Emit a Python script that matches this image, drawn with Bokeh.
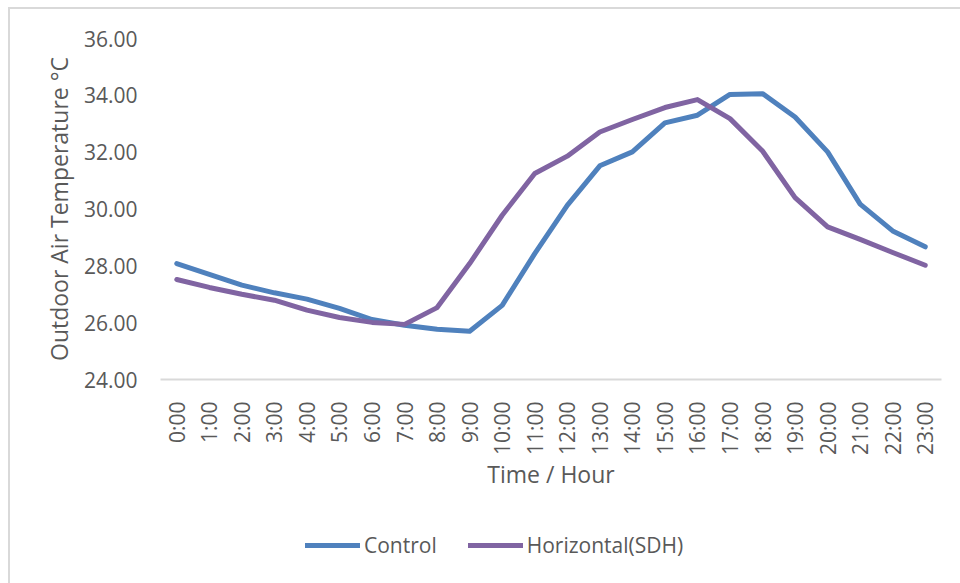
import math
from bokeh.plotting import figure
from bokeh.layouts import column
from bokeh.models import (FactorRange, Range1d, FixedTicker, NumeralTickFormatter,
                          Legend, LegendItem)
from bokeh.embed import file_html
from bokeh.resources import INLINE

hours = [f"{h}:00" for h in range(24)]
control = [28.08, 27.70, 27.32, 27.05, 26.83, 26.50, 26.11, 25.91, 25.77, 25.70,
           26.61, 28.43, 30.13, 31.52, 32.01, 33.03, 33.30, 34.03, 34.06, 33.24,
           32.01, 30.17, 29.23, 28.67]
horizontal = [27.52, 27.24, 27.00, 26.79, 26.44, 26.18, 26.01, 25.94, 26.53, 28.08,
              29.78, 31.25, 31.86, 32.71, 33.15, 33.57, 33.85, 33.18, 32.04, 30.40,
              29.37, 28.93, 28.47, 28.02]
y_ticks = [24, 26, 28, 30, 32, 34, 36]
series_names = ["Control", "Horizontal(SDH)"]
series_colors = ["#4F81BD", "#8064A2"]

FONT = "Open Sans"
TXT = "#595959"
BORDER = "#D9D9D9"

H_MAIN = 510
H_LEG = 583 - H_MAIN

p = figure(width=960, height=H_MAIN, x_range=FactorRange(*hours), y_range=Range1d(24, 36),
           output_backend="svg", toolbar_location=None,
           min_border_left=160, min_border_right=19, min_border_top=38,
           min_border_bottom=H_MAIN - 379)
p.border_fill_color = None
p.styles = {
    "background-image": f"linear-gradient({BORDER}, {BORDER}), linear-gradient({BORDER}, {BORDER})",
    "background-size": "2px 100%, 100% 2px",
    "background-position": "8px 7px, 8px 7px",
    "background-repeat": "no-repeat",
}
p.outline_line_color = None
p.xgrid.grid_line_color = None
p.ygrid.grid_line_color = None
p.x_range.range_padding = 0
p.x_range.factor_padding = 0

r1 = p.line(hours, control, line_color=series_colors[0], line_width=5,
            line_cap="round", line_join="round")
r2 = p.line(hours, horizontal, line_color=series_colors[1], line_width=5,
            line_cap="round", line_join="round")

# y axis
ya = p.yaxis[0]
ya.ticker = FixedTicker(ticks=y_ticks)
ya.formatter = NumeralTickFormatter(format="0.00")
ya.axis_line_color = None
ya.major_tick_line_color = None
ya.minor_tick_line_color = None
ya.major_label_text_font = FONT
ya.major_label_text_font_size = "21px"
ya.major_label_text_color = TXT
ya.major_label_standoff = 17
ya.axis_label = "Outdoor Air Temperature °C"
ya.axis_label_text_font = FONT
ya.axis_label_text_font_size = "23px"
ya.axis_label_text_font_style = "normal"
ya.axis_label_text_color = TXT
ya.axis_label_standoff = 6

# x axis
xa = p.xaxis[0]
xa.axis_line_color = BORDER
xa.axis_line_width = 2
xa.major_tick_line_color = None
xa.minor_tick_line_color = None
xa.major_label_orientation = math.pi / 2
xa.major_label_text_font = FONT
xa.major_label_text_font_size = "21px"
xa.major_label_text_color = TXT
xa.major_label_standoff = 16
xa.axis_label = "Time / Hour"
xa.axis_label_text_font = FONT
xa.axis_label_text_font_size = "23px"
xa.axis_label_text_font_style = "normal"
xa.axis_label_text_color = TXT
xa.axis_label_standoff = 0

# legend strip below the chart (its own canvas so nothing is clipped);
# the series are plotted again there but lie outside its y range, so only
# the legend's sample lines show.
p2 = figure(width=960, height=H_LEG, x_range=FactorRange(*hours), y_range=Range1d(0, 1),
            output_backend="svg", toolbar_location=None,
            x_axis_type=None, y_axis_type=None, min_border=0)
p2.border_fill_color = None
p2.background_fill_color = None
p2.outline_line_color = None
p2.grid.visible = False
p2.styles = {
    "background-image": f"linear-gradient({BORDER}, {BORDER})",
    "background-size": "2px 100%",
    "background-position": "8px 0px",
    "background-repeat": "no-repeat",
}
lr1 = p2.line(hours, control, line_color=series_colors[0], line_width=5, line_cap="round")
lr2 = p2.line(hours, horizontal, line_color=series_colors[1], line_width=5, line_cap="round")

legend = Legend(items=[LegendItem(label=series_names[0], renderers=[lr1]),
                       LegendItem(label=series_names[1], renderers=[lr2])],
                orientation="horizontal", location=(145, 24),
                glyph_width=55, glyph_height=24, label_standoff=4, spacing=31,
                padding=0, margin=0, border_line_color=None, background_fill_alpha=0,
                label_text_font=FONT, label_text_font_size="21px", label_text_color=TXT)
p2.add_layout(legend, "center")

layout = column(p, p2, spacing=0)
open("out.html", "w").write(file_html(layout, INLINE))
